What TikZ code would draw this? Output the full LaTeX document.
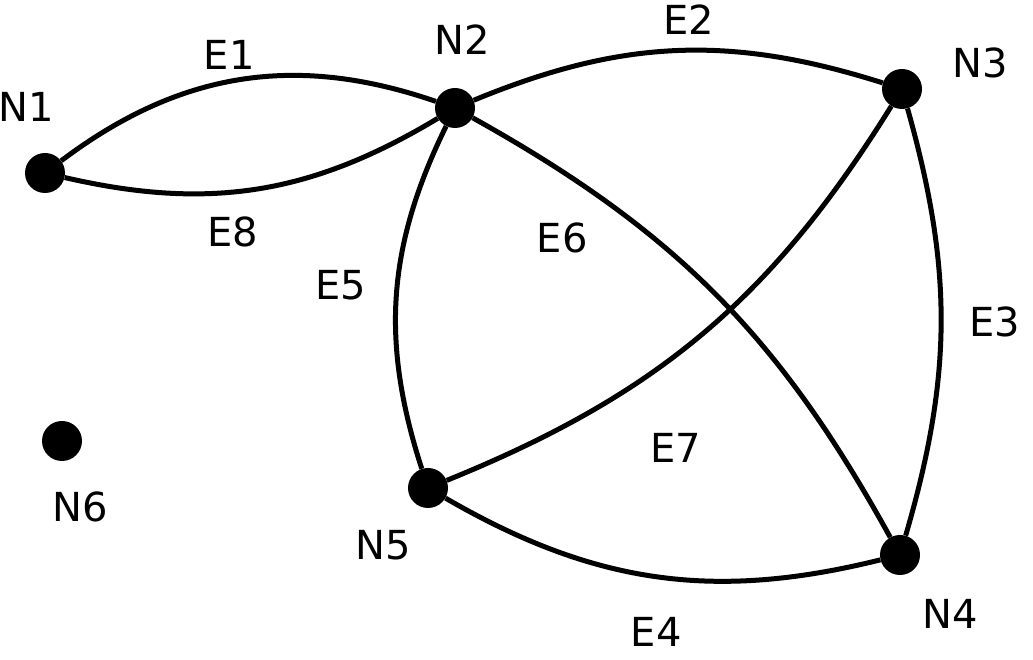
\documentclass[tikz,border=0pt]{standalone}
\usepackage{fontspec}
\setmainfont{DejaVu Sans}
\begin{document}
\begin{tikzpicture}[x=1pt,y=1pt,
  vtx/.style={circle,fill=black,minimum size=40pt,inner sep=0pt},
  lbl/.style={font=\fontsize{40}{48}\selectfont,inner sep=0pt},
  edge/.style={line width=5pt}]
\useasboundingbox (0,0) rectangle (1033,660);
\node[vtx] (n1) at (45,487) {};
\node[vtx] (n2) at (455,552) {};
\node[vtx] (n3) at (902,571) {};
\node[vtx] (n4) at (900,105) {};
\node[vtx] (n5) at (428,172) {};
\node[vtx] (n6) at (62,219) {};
\node[lbl] (l1) at (26,553) {N1};
\node[lbl] (l2) at (462,620) {N2};
\node[lbl] (l3) at (980,597) {N3};
\node[lbl] (l4) at (950,46) {N4};
\node[lbl] (l5) at (383,115) {N5};
\node[lbl] (l6) at (80,153) {N6};
\draw[edge] (n1) to[bend left=28] node[lbl,pos=0.47,above=9pt] {E1} (n2);
\draw[edge] (n1) to[bend right=22] node[lbl,pos=0.43,below=22pt] {E8} (n2);
\draw[edge] (n2) to[bend left=20] node[lbl,above=14pt,xshift=12pt] {E2} (n3);
\draw[edge] (n3) to[bend left=16] node[lbl,right=26pt] {E3} (n4);
\draw[edge] (n5) to[bend right=22] node[lbl,below=38pt] {E4} (n4);
\draw[edge] (n2) to[bend right=22] node[lbl,left=28pt,yshift=10pt] {E5} (n5);
\draw[edge] (n2) to[bend left=16] node[lbl,pos=0.5,xshift=-153pt,yshift=56pt] {E6} (n4);
\draw[edge] (n5) to[bend right=18] node[lbl,pos=0.5,xshift=-27pt,yshift=-114pt] {E7} (n3);
\end{tikzpicture}
\end{document}
